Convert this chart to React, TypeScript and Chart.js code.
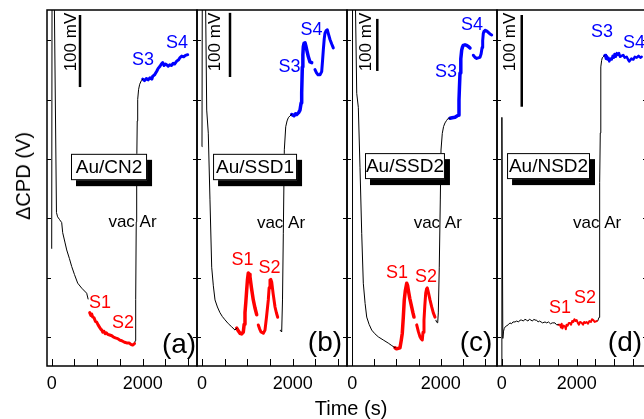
import { useEffect, useRef } from 'react';
import { Chart, registerables } from 'chart.js';

Chart.register(...registerables);

const FONT = '"Liberation Sans", Arial, Helvetica, sans-serif';
const BLACK = '#000000';
const RED = '#ff0000';
const BLUE = '#0000ff';

// ---- axis / labels ----
const X_TICK_LABELS = [0, 2000];
const X_MINOR_STEP = 500;
const Y_TICK_STEP = 100;
const BOX_LABELS = ['Au/CN2', 'Au/SSD1', 'Au/SSD2', 'Au/NSD2'];
const PANEL_LETTERS = ['(a)', '(b)', '(c)', '(d)'];
const STAGE_LABELS = ['S1', 'S2', 'S3', 'S4'];
const SCALE_BAR_MV = 100;
const SCALE_BAR_TEXT = '100 mV';
const GAS_TEXT = 'vac Ar';
const Y_TITLE = '\u0394CPD (V)';
const X_TITLE = 'Time (s)';

// ---- panel (a) Au/CN2 : [time s, CPD mV] ----
const A_BLACK_1: number[][] = [[0,163],[12,700],[45,700],[60,494],[105,213],[130,207],[175,203],[220,199],[242,185],[290,172],[330,161],[390,149],[440,138],[500,127],[571,115],[660,108],[769,101],[800,93]];
const A_RED: number[][] = [[835,74],[860,70],[880,72],[900,68],[930,67],[960,62],[989,61],[1020,57],[1050,54],[1080,51],[1100,50],[1121,47],[1150,48],[1175,45],[1200,46],[1230,44],[1275,43],[1320,42],[1360,40],[1400,39],[1450,38],[1495,36],[1540,35],[1600,33],[1648,32],[1700,32],[1740,30],[1780,29],[1820,31]];
const A_BLACK_2: number[][] = [[1820,31],[1835,35],[1846,92],[1858,200],[1868,277],[1880,340],[1890,370],[1910,384],[1934,391],[1970,396],[2000,398]];
const A_BLUE: number[][] = [[2000,398],[2040,396],[2080,399],[2120,397],[2160,400],[2200,398],[2220,402],[2260,404],[2308,409],[2340,413],[2380,416],[2410,419],[2440,421],[2470,417],[2500,419],[2527,418],[2560,416],[2593,418],[2630,417],[2670,420],[2700,419],[2747,423],[2790,425],[2820,428],[2857,430],[2900,429],[2940,431],[2989,432]];

// ---- panel (b) Au/SSD1 ----
const B_BLACK_1: number[][] = [[0,342],[15,900],[55,900],[80,560],[104,399],[139,363],[176,259],[214,154],[250,125],[287,103],[340,92],[397,83],[450,77],[507,72],[580,66],[655,61],[728,56],[765,59]];
const B_RED_1: number[][] = [[765,59],[800,55],[838,51],[875,50],[911,53],[930,65],[948,83],[967,100],[986,119],[1003,135],[1021,145],[1040,143],[1058,139],[1090,122],[1131,103],[1170,90],[1206,80]];
const B_RED_2: number[][] = [[1241,64],[1270,58],[1301,53],[1352,51],[1389,56],[1425,78],[1462,103],[1480,122],[1499,134],[1518,135],[1537,131],[1570,112],[1610,92],[1640,83],[1669,76]];
const B_BLACK_2: number[][] = [[1720,56],[1757,53],[1775,103],[1793,207],[1815,337],[1846,373],[1875,382],[1903,387],[1940,390],[1978,392]];
const B_BLUE_1: number[][] = [[1978,392],[2029,390],[2060,393],[2088,392],[2130,395],[2161,399],[2185,410],[2198,426],[2212,466],[2224,485],[2234,498],[2250,503],[2271,504],[2290,499],[2309,493],[2345,482],[2381,474],[2419,473]];
const B_BLUE_2: number[][] = [[2491,462],[2525,457],[2558,454],[2602,454],[2639,459],[2660,478],[2675,493],[2695,510],[2712,519],[2740,523],[2763,524],[2790,517],[2822,509],[2860,502],[2895,496]];

// ---- panel (c) Au/SSD2 ----
const C_BLACK_1: number[][] = [[0,-200],[5,2000],[40,2000],[70,700],[100,524],[136,497],[174,382],[213,255],[249,159],[290,120],[326,94],[380,80],[439,69],[510,62],[588,56],[700,50],[814,44],[880,40],[950,36],[966,35]];
const C_RED_1: number[][] = [[966,35],[1000,33],[1040,34],[1079,35],[1105,48],[1131,63],[1155,95],[1176,127],[1200,145],[1231,159],[1250,155],[1267,146],[1300,130],[1344,113],[1370,103],[1396,94]];
const C_RED_2: number[][] = [[1457,79],[1495,66],[1532,56],[1560,52],[1584,50],[1600,65],[1622,88],[1640,115],[1661,140],[1680,148],[1697,150],[1725,140],[1758,127],[1795,114],[1833,102],[1871,94]];
const C_BLACK_2: number[][] = [[1890,88],[1910,84],[1932,83],[1946,102],[1968,190],[1991,319],[2007,415],[2036,447],[2065,460],[2097,467],[2135,472],[2172,476],[2210,476]];
const C_BLUE_1: number[][] = [[2210,476],[2260,477],[2324,478],[2360,480],[2398,482],[2414,511],[2425,537],[2437,563],[2455,590],[2475,607],[2493,613],[2511,616],[2550,617],[2588,616],[2625,614],[2663,611]];
const C_BLUE_2: number[][] = [[2738,597],[2776,593],[2814,591],[2850,592],[2889,593],[2915,600],[2937,612],[2950,625],[2964,639],[2980,643],[3002,645],[3040,644],[3077,641],[3115,638],[3154,636]];

// ---- panel (d) Au/NSD2 ----
const D_BLACK_1: number[][] = [[-10,-60],[5,271],[30,30],[50,38],[69,41],[100,43],[140,44],[176,45],[220,47],[260,46],[300,48],[355,48],[400,49],[450,48],[490,50],[533,50],[580,49],[620,51],[660,50],[700,49],[740,51],[780,50],[820,49],[860,51],[888,50],[930,50],[970,48],[1010,49],[1050,48],[1090,47],[1155,48],[1200,47],[1250,48],[1300,46],[1350,47],[1421,47],[1460,45],[1509,45]];
const D_RED: number[][] = [[1509,45],[1555,45],[1580,42],[1600,46],[1620,41],[1650,44],[1688,43],[1710,40],[1730,45],[1760,44],[1790,47],[1821,47],[1850,45],[1880,49],[1910,48],[1940,51],[1970,49],[2000,50],[2030,47],[2060,45],[2090,48],[2133,47],[2170,45],[2200,48],[2230,47],[2266,48],[2300,46],[2340,49],[2380,48],[2410,51],[2443,50],[2480,48],[2533,49]];
const D_BLACK_2: number[][] = [[2533,49],[2560,49],[2595,53],[2605,90],[2613,145],[2620,200],[2629,254],[2638,295],[2648,326],[2665,333],[2683,336],[2710,337],[2736,338]];
const D_BLUE: number[][] = [[2736,338],[2755,339],[2780,335],[2800,338],[2820,334],[2843,336],[2870,332],[2900,335],[2933,334],[2960,338],[2990,336],[3010,340],[3040,337],[3070,341],[3100,339],[3128,341],[3160,337],[3200,338],[3240,339],[3280,336],[3333,337],[3370,334],[3400,332],[3421,332],[3460,335],[3509,334],[3550,337],[3600,336],[3650,338],[3700,336],[3733,337]];

type Seg = { d: number[][]; c: string; w: number };
type Deco = {
  box: number[]; mv: number[]; bar: number[]; vac: number[];
  s: number[][]; letter: number[];
};
type PanelCfg = {
  left: number; xMin: number; xMax: number; yMax: number;
  segs: Seg[]; deco: Deco; idx: number;
};

const PANELS: PanelCfg[] = [
  {
    idx: 0, left: 47, xMin: -103, xMax: 3193, yMax: 494,
    segs: [
      { d: A_BLACK_1, c: BLACK, w: 1 }, { d: A_RED, c: RED, w: 3 },
      { d: A_BLACK_2, c: BLACK, w: 1 }, { d: A_BLUE, c: BLUE, w: 3 },
    ],
    deco: {
      box: [0.16, 0.667, 0.404, 0.478], mv: [0.16, 0.09], bar: [0.22, 0.014], vac: [0.57, 0.596],
      s: [[0.353, 0.823], [0.507, 0.879], [0.64, 0.14], [0.867, 0.093]], letter: [0.88, 0.941],
    },
  },
  {
    idx: 1, left: 197, xMin: -110, xMax: 3197, yMax: 555,
    segs: [
      { d: B_BLACK_1, c: BLACK, w: 1 }, { d: B_RED_1, c: RED, w: 3.5 }, { d: B_RED_2, c: RED, w: 3 },
      { d: B_BLACK_2, c: BLACK, w: 1 }, { d: B_BLUE_1, c: BLUE, w: 3.5 }, { d: B_BLUE_2, c: BLUE, w: 3 },
    ],
    deco: {
      box: [0.107, 0.667, 0.404, 0.478], mv: [0.123, 0.09], bar: [0.22, 0.008], vac: [0.56, 0.598],
      s: [[0.303, 0.702], [0.483, 0.725], [0.617, 0.16], [0.763, 0.056]], letter: [0.853, 0.935],
    },
  },
  {
    idx: 2, left: 347, xMin: -120, xMax: 3274, yMax: 684,
    segs: [
      { d: C_BLACK_1, c: BLACK, w: 1 }, { d: C_RED_1, c: RED, w: 3.5 }, { d: C_RED_2, c: RED, w: 3 },
      { d: C_BLACK_2, c: BLACK, w: 1 }, { d: C_BLUE_1, c: BLUE, w: 3.5 }, { d: C_BLUE_2, c: BLUE, w: 3 },
    ],
    deco: {
      box: [0.12, 0.653, 0.402, 0.475], mv: [0.13, 0.09], bar: [0.202, 0.025], vac: [0.605, 0.598],
      s: [[0.333, 0.739], [0.527, 0.75], [0.66, 0.174], [0.833, 0.042]], letter: [0.86, 0.935],
    },
  },
  {
    idx: 3, left: 497, xMin: -125, xMax: 3875, yMax: 388,
    segs: [
      { d: D_BLACK_1, c: BLACK, w: 1 }, { d: D_RED, c: RED, w: 2 },
      { d: D_BLACK_2, c: BLACK, w: 1 }, { d: D_BLUE, c: BLUE, w: 2.5 },
    ],
    deco: {
      box: [0.067, 0.62, 0.402, 0.475], mv: [0.087, 0.09], bar: [0.165, 0.014], vac: [0.667, 0.598],
      s: [[0.42, 0.837], [0.587, 0.81], [0.70, 0.062], [0.913, 0.093]], letter: [0.853, 0.935],
    },
  },
];

const PANEL_W = 150;
const PAD = 20;
const TOP = 10;
const BOTTOM = 366;
const CANVAS_H = 419;

function makeDeco(cfg: PanelCfg) {
  return {
    id: 'deco' + cfg.idx,
    afterDatasetsDraw(chart: any) {
      const ctx = chart.ctx as CanvasRenderingContext2D;
      const ca = chart.chartArea;
      const xs = chart.scales.x;
      const ys = chart.scales.y;
      const yt = chart.scales.yt;
      const W = ca.right - ca.left;
      const H = ca.bottom - ca.top;
      const fx = (f: number) => ca.left + f * W;
      const fy = (f: number) => ca.top + f * H;
      const d = cfg.deco;
      ctx.save();

      // box with shadow
      const bx0 = fx(d.box[0]), bx1 = fx(d.box[1]), by0 = fy(d.box[2]), by1 = fy(d.box[3]);
      ctx.fillStyle = '#000';
      ctx.fillRect(bx0 + 5, by0 + 6, bx1 - bx0, by1 - by0);
      ctx.fillStyle = '#fff';
      ctx.fillRect(bx0, by0, bx1 - bx0, by1 - by0);
      ctx.strokeStyle = '#000';
      ctx.lineWidth = 1;
      ctx.strokeRect(bx0 + 0.5, by0 + 0.5, bx1 - bx0 - 1, by1 - by0 - 1);
      ctx.fillStyle = '#000';
      ctx.font = '19px ' + FONT;
      ctx.textAlign = 'center';
      ctx.textBaseline = 'middle';
      ctx.fillText(BOX_LABELS[cfg.idx], (bx0 + bx1) / 2, (by0 + by1) / 2 + 1);

      // scale bar
      const barX = fx(d.bar[0]);
      const barTop = fy(d.bar[1]);
      const topVal = ys.getValueForPixel(barTop);
      const barBottom = ys.getPixelForValue(topVal - SCALE_BAR_MV);
      ctx.lineWidth = 2.5;
      ctx.beginPath();
      ctx.moveTo(barX, barTop);
      ctx.lineTo(barX, barBottom);
      ctx.stroke();

      // 100 mV text
      ctx.save();
      ctx.translate(fx(d.mv[0]), fy(d.mv[1]));
      ctx.rotate(-Math.PI / 2);
      ctx.font = '17px ' + FONT;
      ctx.fillText(SCALE_BAR_TEXT, 0, 0);
      ctx.restore();

      // vac Ar
      ctx.font = '17px ' + FONT;
      ctx.fillText(GAS_TEXT, fx(d.vac[0]), fy(d.vac[1]));

      // stage labels
      ctx.font = '18px ' + FONT;
      d.s.forEach((p, i) => {
        ctx.fillStyle = i < 2 ? RED : BLUE;
        ctx.fillText(STAGE_LABELS[i], fx(p[0]), fy(p[1]));
      });

      // panel letter
      ctx.fillStyle = '#000';
      ctx.font = '28px ' + FONT;
      ctx.fillText(PANEL_LETTERS[cfg.idx], fx(d.letter[0]), fy(d.letter[1]));

      // frame
      ctx.lineWidth = 1.5;
      ctx.strokeRect(ca.left, ca.top, W, H);

      // ticks
      ctx.lineWidth = 1;
      ctx.beginPath();
      for (let t = 0; t <= xs.max; t += X_MINOR_STEP) {
        const p = Math.round(xs.getPixelForValue(t)) + 0.5;
        ctx.moveTo(p, ca.bottom);
        ctx.lineTo(p, ca.bottom - 7);
      }
      for (let v = 0; v <= yt.max; v += Y_TICK_STEP) {
        const p = Math.round(yt.getPixelForValue(v)) + 0.5;
        ctx.moveTo(ca.left, p);
        ctx.lineTo(ca.left + 4, p);
        ctx.moveTo(ca.right, p);
        ctx.lineTo(ca.right - 4, p);
      }
      ctx.stroke();

      // x tick labels
      ctx.font = '18px ' + FONT;
      ctx.fillStyle = '#000';
      X_TICK_LABELS.forEach((t) => {
        ctx.fillText(String(t), xs.getPixelForValue(t), ca.bottom + 18);
      });
      ctx.restore();
    },
  };
}

function Panel({ cfg }: { cfg: PanelCfg }) {
  const ref = useRef<HTMLCanvasElement | null>(null);
  useEffect(() => {
    if (!ref.current) return;
    const chart = new Chart(ref.current, {
      type: 'line',
      data: {
        datasets: cfg.segs.map((s) => ({
          data: s.d.map((p) => ({ x: p[0], y: p[1] })),
          borderColor: s.c,
          borderWidth: s.w,
          pointRadius: 0,
          tension: 0,
          fill: false,
          borderJoinStyle: 'round' as const,
          borderCapStyle: 'round' as const,
          yAxisID: 'y',
        })),
      },
      options: {
        animation: false,
        responsive: false,
        devicePixelRatio: 1,
        events: [],
        layout: { padding: { left: PAD, right: PAD, top: TOP, bottom: CANVAS_H - BOTTOM } },
        plugins: { legend: { display: false }, tooltip: { enabled: false } },
        scales: {
          x: { type: 'linear', display: false, min: cfg.xMin, max: cfg.xMax },
          y: { type: 'linear', display: false, min: 0, max: cfg.yMax },
          yt: { type: 'linear', display: false, min: -49, max: 551, position: 'right' },
        },
      },
      plugins: [makeDeco(cfg)],
    } as any);
    return () => chart.destroy();
  }, [cfg]);
  return (
    <canvas
      ref={ref}
      width={PANEL_W + 2 * PAD}
      height={CANVAS_H}
      style={{ position: 'absolute', left: cfg.left - PAD, top: 0, width: PANEL_W + 2 * PAD, height: CANVAS_H }}
    />
  );
}

export default function App() {
  return (
    <div style={{ position: 'absolute', left: 0, top: 0, width: 644, height: 419, overflow: 'hidden', background: '#fff' }}>
      {PANELS.map((p) => (
        <Panel key={p.idx} cfg={p} />
      ))}
      <div
        style={{
          position: 'absolute', left: 23, top: 176, transform: 'translate(-50%, -50%) rotate(-90deg)',
          whiteSpace: 'nowrap', fontFamily: FONT, fontSize: 20, color: '#000', lineHeight: 1,
        }}
      >
        {Y_TITLE}
      </div>
      <div
        style={{
          position: 'absolute', left: 351, top: 408, transform: 'translate(-50%, -50%)',
          whiteSpace: 'nowrap', fontFamily: FONT, fontSize: 20, color: '#000', lineHeight: 1,
        }}
      >
        {X_TITLE}
      </div>
    </div>
  );
}
